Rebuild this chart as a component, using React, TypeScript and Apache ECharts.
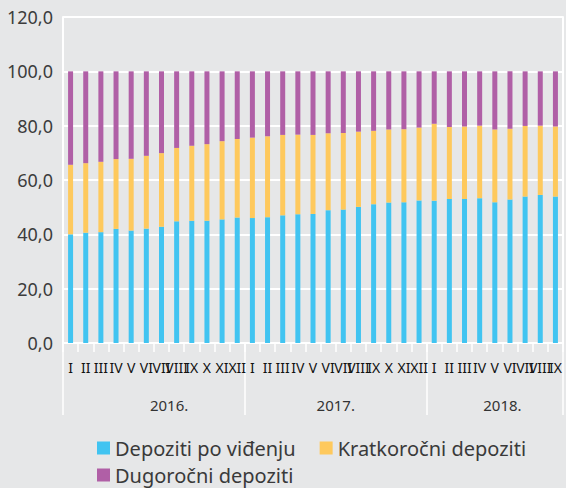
import React, { useEffect, useRef } from "react";
import * as echarts from "echarts";

const months2016 = ["I", "II", "III", "IV", "V", "VI", "VII", "VIII", "IX", "X", "XI", "XII"];
const months2017 = ["I", "II", "III", "IV", "V", "VI", "VII", "VIII", "IX", "X", "XI", "XII"];
const months2018 = ["I", "II", "III", "IV", "V", "VI", "VII", "VIII", "IX"];
const categories = [...months2016, ...months2017, ...months2018];

const years = ["2016.", "2017.", "2018."];
const yearLabelPos = [7, 18, 29];

const demandDeposits = [
  40.0, 40.6, 40.8, 42.0, 41.4, 42.1, 42.8, 44.8, 45.0, 45.0, 45.5, 46.2,
  46.0, 46.3, 47.0, 47.4, 47.5, 48.9, 49.1, 50.1, 51.1, 51.7, 51.8, 52.5,
  52.4, 53.0, 53.0, 53.3, 51.8, 52.8, 53.9, 54.5, 53.9,
];
const shortTermDeposits = [
  25.6, 25.6, 25.9, 25.7, 26.4, 26.8, 27.1, 27.0, 27.6, 28.2, 28.8, 28.9,
  29.6, 29.8, 29.6, 29.3, 29.1, 28.3, 28.2, 27.7, 27.0, 26.9, 26.9, 26.8,
  28.3, 26.5, 26.7, 26.7, 26.8, 26.1, 26.0, 25.5, 25.8,
];
const longTermDeposits = [
  34.4, 33.8, 33.3, 32.3, 32.2, 31.1, 30.1, 28.2, 27.4, 26.8, 25.7, 24.9,
  24.4, 23.9, 23.4, 23.3, 23.4, 22.8, 22.7, 22.2, 21.9, 21.4, 21.3, 20.7,
  19.3, 20.5, 20.3, 20.0, 21.4, 21.1, 20.1, 20.0, 20.3,
];

const seriesNames = ["Depoziti po viđenju", "Kratkoročni depoziti", "Dugoročni depoziti"];
const colors = ["#41c4f1", "#fec95d", "#b05fa6"];

export default function App() {
  const ref = useRef<HTMLDivElement>(null);
  useEffect(() => {
    if (!ref.current) return;
    const chart = echarts.init(ref.current, null, { renderer: "svg" });
    const font = "Noto Sans";
    const white = "#ffffff";
    const legendText = { fontFamily: font, fontSize: 20, color: "#3a3a3a" };
    const option: any = {
      animation: false,
      backgroundColor: "#e6e7e8",
      textStyle: { fontFamily: font },
      grid: { left: 63, right: 3, top: 17, bottom: 145, containLabel: false },
      legend: [
        {
          data: [seriesNames[0], seriesNames[1]],
          left: 92,
          top: 433,
          orient: "horizontal",
          icon: "rect",
          itemWidth: 13,
          itemHeight: 13,
          itemGap: 24,
          textStyle: legendText,
        },
        {
          data: [seriesNames[2]],
          left: 92,
          top: 460,
          orient: "horizontal",
          icon: "rect",
          itemWidth: 13,
          itemHeight: 13,
          textStyle: legendText,
        },
      ],
      xAxis: [
        {
          type: "category",
          data: categories,
          boundaryGap: true,
          axisLine: { show: true, lineStyle: { color: white, width: 2 } },
          axisTick: { show: true, length: 9, lineStyle: { color: white, width: 1.5 } },
          axisLabel: {
            interval: 0,
            color: "#111111",
            fontSize: 14,
            fontFamily: font,
            margin: 17,
          },
          splitLine: { show: false },
        },
        {
          type: "category",
          data: categories,
          boundaryGap: true,
          position: "bottom",
          axisLine: { show: false },
          axisTick: {
            show: true,
            length: 72,
            interval: (i: number) => i === 0 || i === 12 || i === 24,
            lineStyle: { color: white, width: 1.5 },
          },
          axisLabel: { show: false },
          splitLine: { show: false },
        },
        {
          type: "value",
          min: 0,
          max: 33,
          interval: 0.5,
          position: "bottom",
          axisLine: { show: false },
          axisTick: { show: false },
          splitLine: { show: false },
          axisLabel: {
            show: true,
            margin: 54,
            color: "#333333",
            fontSize: 15,
            fontFamily: font,
            showMinLabel: false,
            showMaxLabel: false,
            formatter: (v: number) => {
              const idx = yearLabelPos.indexOf(v);
              return idx >= 0 ? years[idx] : "";
            },
          },
        },
      ],
      yAxis: [
        {
          type: "value",
          min: 0,
          max: 120,
          interval: 20,
          axisLine: { show: true, lineStyle: { color: white, width: 2 } },
          axisTick: { show: false },
          splitLine: { show: true, lineStyle: { color: white, width: 2 } },
          axisLabel: {
            color: "#3c3c3c",
            fontSize: 18,
            fontFamily: font,
            margin: 10,
            formatter: (v: number) => v.toFixed(1).replace(".", ","),
          },
        },
        {
          type: "value",
          min: 0,
          max: 120,
          interval: 20,
          position: "right",
          axisLine: { show: true, lineStyle: { color: white, width: 2 } },
          axisTick: { show: false },
          splitLine: { show: false },
          axisLabel: { show: false },
        },
      ],
      series: [demandDeposits, shortTermDeposits, longTermDeposits].map((d, i) => ({
        name: seriesNames[i],
        type: "bar",
        stack: "total",
        xAxisIndex: 0,
        yAxisIndex: 0,
        barWidth: 5,
        data: d,
        itemStyle: { color: colors[i] },
      })),
    };
    chart.setOption(option);
    return () => chart.dispose();
  }, []);
  return (
    <div
      ref={ref}
      style={{ position: "fixed", left: 0, top: 0, width: 566, height: 488 }}
    />
  );
}
